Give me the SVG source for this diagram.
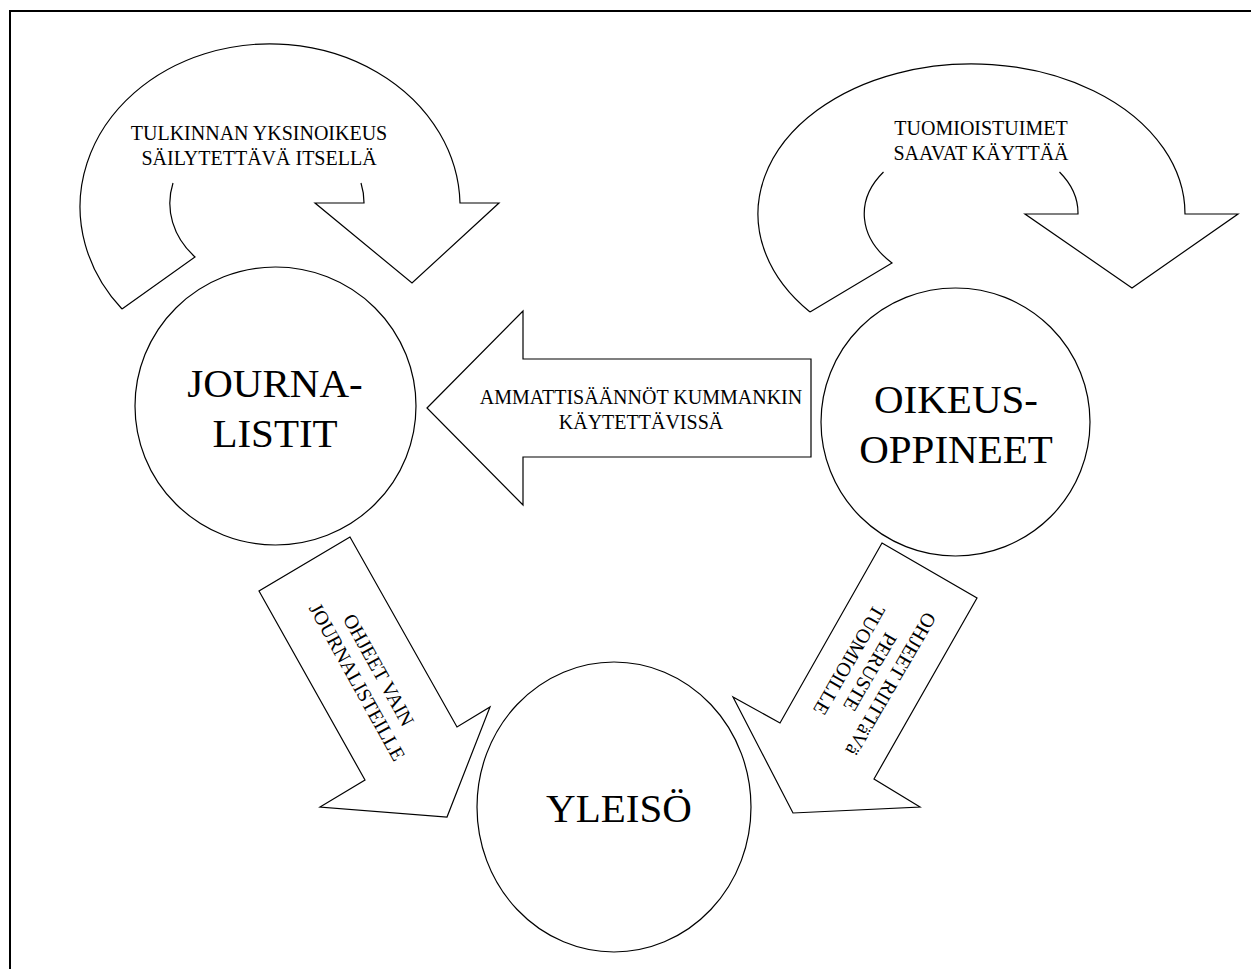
<svg xmlns="http://www.w3.org/2000/svg" width="1251" height="969" viewBox="0 0 1251 969">
<style>
.shape{fill:#fff;stroke:#000;stroke-width:1.2;stroke-linejoin:miter}
.fillonly{fill:#fff;stroke:none}
.line{fill:none;stroke:#000;stroke-width:1.2}
.t{font-family:"Liberation Serif","Times New Roman",serif;fill:#000;text-anchor:middle}
.s{font-size:20px}
.b{font-size:41px}
</style>
<rect x="0" y="0" width="1251" height="969" fill="#fff"/>
<path d="M10,969 L10,11 L1251,11" fill="none" stroke="#000" stroke-width="2"/>

<g id="connectors">
  <g id="loop-journalistit">
    <path class="fillonly" d="M122,309 A190,163 0 1 1 460,203 L499,203 L412,283 L315,203 L364,203 A97,80 0 1 0 195,257 Z"/>
    <path class="line" d="M122,309 A190,163 0 1 1 460,203 L499,203 L412,283 L315,203 L364,203 A97,80 0 0 0 361,183 M173,183 A97,80 0 0 0 195,257 L122,309"/>
    <text class="t s" x="259" y="140">TULKINNAN YKSINOIKEUS</text>
    <text class="t s" x="259" y="165">SÄILYTETTÄVÄ ITSELLÄ</text>
  </g>
  <g id="loop-oikeusoppineet">
    <path class="fillonly" d="M810,312 A213.5,150 0 1 1 1185,214 L1238,214 L1132,288 L1025,214 L1078,214 A106.5,73 0 1 0 892,263 Z"/>
    <path class="line" d="M810,312 A213.5,150 0 1 1 1185,214 L1238,214 L1132,288 L1025,214 L1078,214 A106.5,73 0 0 0 1059.5,172 M883.5,172 A106.5,73 0 0 0 892,263 L810,312"/>
    <text class="t s" x="981" y="135">TUOMIOISTUIMET</text>
    <text class="t s" x="981" y="160">SAAVAT KÄYTTÄÄ</text>
  </g>
  <g id="arrow-oikeus-journalistit">
    <path class="shape" d="M427,408 L523,311 L523,359 L811,359 L811,457 L523,457 L523,505 Z"/>
    <text class="t s" x="641" y="404">AMMATTISÄÄNNÖT KUMMANKIN</text>
    <text class="t s" x="641" y="429">KÄYTETTÄVISSÄ</text>
  </g>
  <g id="arrow-journalistit-yleiso">
    <path class="shape" d="M350,537 L259,591 L365,780 L320,807 L447,817 L490,707 L457,727 Z"/>
    <g transform="translate(368,676) rotate(61)">
      <text class="t s" x="0" y="-5.5">OHJEET VAIN</text>
      <text class="t s" x="0" y="19">JOURNALISTEILLE</text>
    </g>
  </g>
  <g id="arrow-oikeus-yleiso">
    <path class="shape" d="M882,543 L977,598 L874,779 L920,807 L793,813 L733,697 L780,723 Z"/>
    <g transform="translate(870,672) rotate(120)">
      <text class="t s" x="0" y="-17.4">OHJEET RIITTäVä</text>
      <text class="t s" x="0" y="6.6">PERUSTE</text>
      <text class="t s" x="0" y="30.6">TUOMIOILLE</text>
    </g>
  </g>
</g>

<g id="node-journalistit">
  <ellipse class="shape" cx="275.5" cy="406" rx="140.5" ry="139"/>
  <text class="t b" x="275" y="397">JOURNA-</text>
  <text class="t b" x="275" y="447">LISTIT</text>
</g>
<g id="node-oikeusoppineet">
  <ellipse class="shape" cx="955.5" cy="422" rx="134.5" ry="134"/>
  <text class="t b" x="956" y="413">OIKEUS-</text>
  <text class="t b" x="956" y="463">OPPINEET</text>
</g>
<g id="node-yleiso">
  <ellipse class="shape" cx="614" cy="807" rx="137" ry="145"/>
  <text class="t b" x="619" y="822">YLEISÖ</text>
</g>
</svg>
